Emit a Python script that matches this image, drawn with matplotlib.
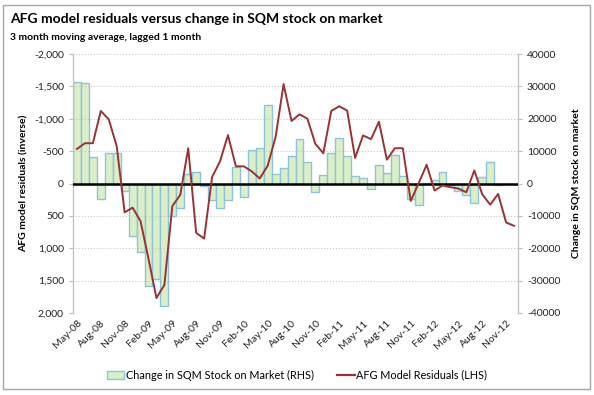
import matplotlib
matplotlib.use("Agg")
import matplotlib.pyplot as plt
import matplotlib.patches as mpatches
from matplotlib.lines import Line2D
from matplotlib.ticker import FuncFormatter, MultipleLocator
import numpy as np
import pandas as pd

FONT = "Lato"
plt.rcParams["font.family"] = [FONT, "DejaVu Sans"]

# ── Data (monthly, May-08 .. Dec-12) ─────────────────────────────────────
months = pd.date_range("2008-05-01", periods=56, freq="MS").strftime("%b-%y").tolist()

# Change in SQM stock on market (RHS)
sqm_change = [
    31400, 31000, 8100, -4700, 9400, 9400, -2300, -16100, -21300, -31600,
    -29500, -37900, -9900, -7600, 2800, 3700, -800, -5200, -7600, -5200,
    5100, -4200, 10400, 10900, 24100, 2800, 4800, 8500, 13800, 6500,
    -2700, 2700, 9300, 14100, 8400, 2200, 1800, -1800, 5600, 3100,
    8900, 2300, -4900, -6600, 300, 1200, 3700, -400, -2400, -3700,
    -6100, 1900, 6500, -400, 0, 0,
]

# AFG model residuals (LHS, inverted axis)
afg_resid = [
    -534, -622, -622, -1120, -991, -576, 446, 373, 581, 1162,
    1769, 1566, 348, 176, -545, 762, 851, -99, -342, -747,
    -265, -265, -187, -78, -275, -721, -1535, -965, -1068, -1001,
    -612, -467, -1120, -1193, -1126, -394, -742, -685, -954, -368,
    -545, -545, 270, -5, -290, 109, 31, 57, 78, 135,
    -202, 166, 327, 161, 602, 654,
]

C_BAR = "#DBEFC6"
C_BAR_EDGE = "#8DC3DD"
C_LINE = "#983234"
C_GRID = "#BFBFBF"
C_AXIS = "#BFBFBF"

fig = plt.figure(figsize=(5.94, 3.95), dpi=100)
ax = fig.add_axes([73 / 594, 1 - 313 / 395, 445 / 594, 259 / 395])
ax2 = ax.twinx()
ax.set_zorder(ax2.get_zorder() + 1)
ax.patch.set_visible(False)

x = np.arange(len(months))

# bars on RHS
ax2.bar(x, sqm_change, width=1.0, color=C_BAR, edgecolor=C_BAR_EDGE,
        linewidth=1.0, zorder=2)
ax2.set_ylim(-40000, 40000)
ax2.yaxis.set_major_locator(MultipleLocator(10000))
ax2.yaxis.set_major_formatter(FuncFormatter(lambda v, p: f"{v:.0f}"))
ax2.set_ylabel("Change in SQM stock on market", fontsize=7.5,
               fontweight="bold", labelpad=8)

# line on LHS (inverted)
ax.plot(x, afg_resid, color=C_LINE, lw=1.4, zorder=4)
ax.axhline(0, color="black", lw=1.8, zorder=3)
ax.set_ylim(2000, -2000)
ax.yaxis.set_major_locator(MultipleLocator(500))
ax.yaxis.set_major_formatter(FuncFormatter(lambda v, p: f"{v:,.0f}"))
ax.set_ylabel("AFG model residuals (inverse)", fontsize=7.5,
              fontweight="bold", labelpad=4)
ax.grid(axis="y", color=C_GRID, lw=0.7, linestyle=(0, (1, 2)))
ax.set_axisbelow(True)

for a in (ax, ax2):
    a.set_xlim(-0.5, len(months) - 0.5)
    for s in ("top", "bottom"):
        a.spines[s].set_visible(False)
    a.spines["left"].set_color(C_AXIS)
    a.spines["right"].set_color(C_AXIS)
    a.tick_params(axis="y", labelsize=7.5, color=C_AXIS, length=3,
                  labelcolor="#222222")

ax.set_xticks(x[::3])
ax.set_xticklabels(months[::3], rotation=45, ha="right",
                   rotation_mode="anchor", fontsize=7.5, color="#222222")
ax.tick_params(axis="x", length=0, pad=4)

# titles
fig.text(10 / 594, 1 - 19 / 395, "AFG model residuals versus change in SQM stock on market",
         fontsize=10, fontweight="bold", va="center", ha="left")
fig.text(10 / 594, 1 - 37 / 395, "3 month moving average, lagged 1 month",
         fontsize=7.5, fontweight="bold", va="center", ha="left")

# legend
handles = [
    mpatches.Patch(facecolor=C_BAR, edgecolor=C_BAR_EDGE,
                   label="Change in SQM Stock on Market (RHS)"),
    Line2D([0], [0], color=C_LINE, lw=1.6, label="AFG Model Residuals (LHS)"),
]
fig.legend(handles=handles, loc="center", bbox_to_anchor=(0.5, 1 - 375 / 395),
           ncol=2, frameon=False, fontsize=7.8, handlelength=1.6,
           handletextpad=0.15, columnspacing=2.2)

# chart border
fig.patches.append(mpatches.Rectangle((3 / 594, 1 - 389 / 395), 587 / 594,
                                      384 / 395, transform=fig.transFigure,
                                      fill=False, edgecolor="#A6A6A6", lw=1.0))

fig.savefig("out.png", dpi=100, facecolor="white")
